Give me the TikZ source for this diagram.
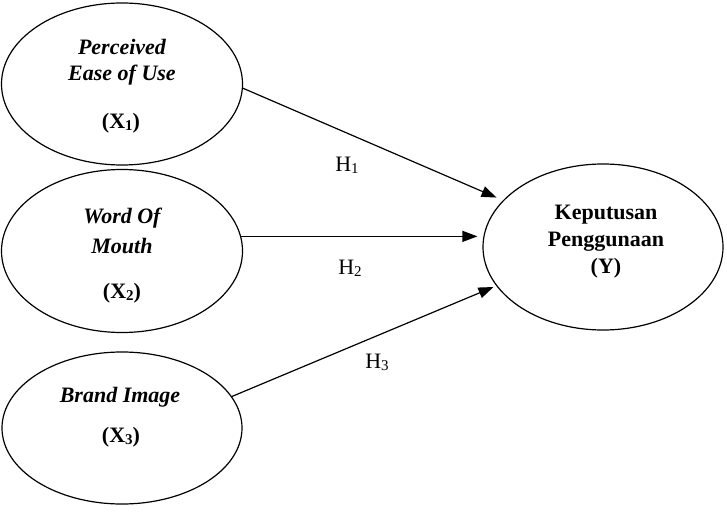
\documentclass[tikz,border=0pt]{standalone}
\usepackage{fontspec}
\setmainfont{Liberation Serif}
\usetikzlibrary{shapes.geometric,arrows.meta}
\newcommand{\sbs}[1]{\raisebox{-0.2ex}{\fontsize{15}{15}\selectfont #1}}
\begin{document}
\begin{tikzpicture}[x=1pt,y=-1pt,
  var/.style={draw,ellipse,line width=1.2pt,minimum width=#1,inner sep=0pt},
  lbl/.style={inner sep=0pt,font=\fontsize{22}{26}\selectfont\bfseries\itshape},
  lblb/.style={inner sep=0pt,font=\fontsize{22}{26}\selectfont\bfseries},
  hyp/.style={inner sep=0pt,font=\fontsize{22}{26}\selectfont},
  arr/.style={line width=1.2pt,-{Triangle[length=15pt,width=11pt]}}]
\useasboundingbox (0,0) rectangle (727,513);
\node[var=241pt,minimum height=162pt] (e1) at (122,84) {};
\node[var=241pt,minimum height=163pt] (e2) at (122,251) {};
\node[var=240pt,minimum height=152pt] (e3) at (122,428) {};
\node[var=240pt,minimum height=166pt] (ey) at (603,247) {};
\node[lbl] (t1a) at (122,47) {Perceived};
\node[lbl] (t1b) at (122,75) {Ease of Use};
\node[lblb] (t1c) at (121,123) {(X\sbs{1})};
\node[lbl] (t2a) at (122,218) {Word Of};
\node[lbl] (t2b) at (122,246) {Mouth};
\node[lblb] (t2c) at (122,293) {(X\sbs{2})};
\node[lbl] (t3a) at (120,397) {Brand Image};
\node[lblb] (t3c) at (121,437) {(X\sbs{3})};
\node[lblb] (tya) at (606,215) {Keputusan};
\node[lblb] (tyb) at (606,242) {Penggunaan};
\node[lblb] (tyc) at (606,268) {(Y)};
\draw[arr,shorten >=7pt] (e1.-2) -- (ey.155);
\draw[arr,shorten >=5pt] (e2.7) -- (ey.west |- e2.7);
\draw[arr,shorten >=3pt] (e3.16) -- (ey.200);
\node[hyp] (h1) at (347,165) {H\sbs{1}};
\node[hyp] (h2) at (350,268) {H\sbs{2}};
\node[hyp] (h3) at (377,362) {H\sbs{3}};
\end{tikzpicture}
\end{document}
